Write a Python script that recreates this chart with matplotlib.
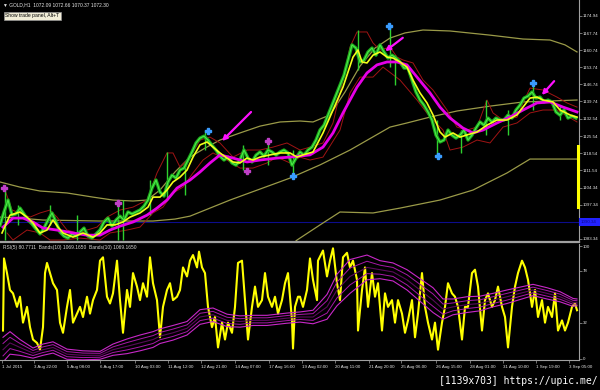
import numpy as np
import matplotlib
matplotlib.use("Agg")
import matplotlib.pyplot as plt
from matplotlib.patches import Rectangle

plt.rcParams['font.family'] = ['Liberation Sans', 'DejaVu Sans']

price_ticks = [1174.94, 1167.74, 1160.74, 1153.74, 1146.74, 1139.74,
               1132.54, 1125.54, 1118.54, 1111.54, 1104.34, 1097.34, 1083.34]
rsi_ticks = [100, 78, 32, 0]

time_pos = [2, 34, 67, 100, 135, 168, 201, 235, 269, 302, 335, 369, 401, 436, 470, 503, 536, 569]
time_lbl = ["1 Jul 2015", "3 Aug 22:00", "5 Aug 08:00", "6 Aug 17:00", "10 Aug 03:00",
            "11 Aug 12:00", "12 Aug 21:00", "14 Aug 07:00", "17 Aug 16:00", "19 Aug 02:00",
            "20 Aug 11:00", "21 Aug 20:00", "25 Aug 06:00", "26 Aug 15:00", "28 Aug 01:00",
            "31 Aug 10:00", "1 Sep 19:00", "3 Sep 05:00"]

# green closes, one every 4 bars
close = [1089.0, 1094.4, 1099.3, 1093.1, 1093.6, 1096.0, 1093.6, 1091.1, 1089.5, 1087.4,
         1085.4, 1087.8, 1091.1, 1094.0, 1090.3, 1086.2, 1084.5, 1083.7, 1085.4, 1084.5,
         1086.2, 1087.8, 1084.5, 1083.7, 1085.4, 1087.0, 1090.3, 1091.9, 1088.6, 1091.1,
         1092.7, 1091.1, 1094.4, 1093.6, 1094.4, 1095.2, 1096.8, 1099.3, 1104.2, 1107.5,
         1102.6, 1100.9, 1106.7, 1109.5, 1108.3, 1111.6, 1112.4, 1115.7, 1119.0, 1122.7,
         1124.7, 1125.5, 1123.9, 1121.8, 1119.8, 1117.3, 1115.7, 1116.9, 1114.5, 1113.6,
         1115.7, 1119.8, 1116.5, 1114.9, 1117.7, 1119.0, 1117.3, 1119.8, 1119.0, 1117.7,
         1119.0, 1119.8, 1118.6, 1113.6, 1116.5, 1119.0, 1117.7, 1119.8, 1121.0, 1123.9,
         1128.0, 1130.0, 1134.1, 1138.2, 1142.3, 1146.4, 1150.5, 1156.7, 1162.9, 1161.6,
         1155.9, 1156.7, 1160.0, 1161.6, 1158.7, 1162.9, 1160.0, 1157.5, 1158.7, 1157.5,
         1155.9, 1153.4, 1153.4, 1148.5, 1143.6, 1140.3, 1138.2, 1135.4, 1132.1, 1125.9,
         1123.1, 1123.9, 1128.0, 1125.9, 1124.7, 1125.9, 1128.0, 1123.9, 1125.9, 1128.8,
         1131.3, 1130.0, 1132.9, 1131.3, 1132.9, 1132.1, 1132.1, 1134.1, 1132.9, 1136.2,
         1138.2, 1141.1, 1141.9, 1143.6, 1141.1, 1141.5, 1139.5, 1140.3, 1139.5, 1135.4,
         1134.1, 1136.2, 1132.9, 1133.7, 1132.9]
close_x = np.arange(0, 580, 4)

spike_x = [5, 18, 50, 77, 118, 123, 150, 167, 185, 205, 243, 268, 293, 358, 390, 395,
           437, 461, 486, 508, 533, 560]
spike_lo = [1082.9, 1089.0, 1089.0, 1082.9, 1082.9, 1082.9, 1093.1, 1099.3, 1101.4, 1119.8,
            1111.6, 1113.6, 1109.5, 1152.6, 1153.8, 1146.4, 1117.7, 1118.6, 1125.9, 1125.9,
            1136.2, 1132.1]
spike_hi = [1103.4, 1097.2, 1097.2, 1093.1, 1098.1, 1099.3, 1107.5, 1119.0, 1113.6, 1128.0,
            1121.8, 1123.9, 1119.8, 1169.0, 1171.1, 1158.7, 1132.1, 1128.0, 1140.3, 1136.2,
            1148.5, 1138.2]

fast_x = [2, 10, 20, 27, 33, 40, 47, 53, 58, 63, 73, 83, 93, 100, 107, 115, 123, 130, 140, 148,
          153, 160, 167, 173, 180, 187, 193, 200, 207, 213, 220, 227, 233, 240, 247, 253, 260,
          270, 280, 290, 297, 303, 313, 323, 333, 343, 353, 358, 362, 367, 373, 380, 387, 393,
          400, 407, 413, 420, 427, 433, 440, 445, 453, 460, 467, 477, 487, 497, 507, 517, 523,
          530, 537, 543, 553, 560, 570, 577]
fast_ma = [1085.8, 1093.1, 1094.4, 1092.3, 1089.9, 1085.8, 1087.0, 1091.1, 1088.2, 1085.8,
           1084.1, 1085.8, 1084.1, 1085.8, 1089.1, 1089.1, 1090.3, 1092.3, 1094.0, 1096.4,
           1100.5, 1100.5, 1103.4, 1106.7, 1108.7, 1111.6, 1116.9, 1121.9, 1123.1, 1121.0,
           1118.6, 1116.5, 1114.9, 1114.5, 1116.5, 1115.7, 1116.9, 1117.8, 1118.6, 1118.6,
           1116.9, 1117.8, 1119.0, 1126.8, 1136.2, 1145.6, 1157.9, 1160.8, 1155.9, 1155.5,
           1158.7, 1160.0, 1157.9, 1157.5, 1155.9, 1153.8, 1148.5, 1143.2, 1139.1, 1134.2,
           1127.2, 1125.1, 1126.8, 1125.1, 1126.0, 1127.2, 1130.0, 1132.1, 1132.1, 1134.2,
           1137.4, 1141.1, 1141.5, 1140.3, 1139.5, 1136.2, 1134.2, 1133.3]

slow_x = [3, 13, 23, 33, 43, 57, 73, 87, 100, 110, 120, 133, 147, 157, 167, 177, 190, 200, 210,
          220, 233, 247, 260, 277, 290, 310, 323, 333, 343, 357, 367, 377, 387, 397, 407, 417,
          430, 440, 450, 463, 473, 483, 497, 510, 523, 537, 550, 563, 577]
slow_ma = [1088.2, 1091.9, 1091.9, 1090.3, 1087.8, 1087.0, 1085.8, 1084.9, 1084.9, 1087.0,
           1088.6, 1090.3, 1093.1, 1096.0, 1099.3, 1104.2, 1107.5, 1110.8, 1114.5, 1117.8,
           1116.5, 1114.9, 1115.7, 1116.5, 1116.9, 1117.8, 1121.0, 1126.8, 1135.0, 1145.6,
           1151.4, 1154.7, 1155.9, 1155.9, 1154.7, 1149.7, 1143.2, 1137.4, 1132.9, 1128.8,
           1126.8, 1128.0, 1130.9, 1133.3, 1136.2, 1139.1, 1139.5, 1137.4, 1135.4]

red_up_x = [5, 12, 20, 30, 40, 50, 57, 67, 77, 87, 97, 107, 120, 133, 147, 157, 167, 173, 180,
            190, 200, 210, 220, 233, 247, 260, 273, 287, 300, 310, 323, 333, 343, 350, 357,
            367, 373, 380, 390, 397, 403, 413, 423, 433, 440, 447, 457, 467, 477, 487, 493,
            503, 517, 523, 530, 543, 557, 567, 577]
red_up = [1103.4, 1095.2, 1094.0, 1092.3, 1094.0, 1095.2, 1092.3, 1087.0, 1085.8, 1087.0,
          1088.2, 1092.3, 1095.2, 1096.4, 1099.3, 1110.4, 1118.6, 1118.6, 1112.8, 1116.9,
          1123.9, 1125.1, 1122.7, 1116.9, 1119.8, 1119.8, 1121.0, 1122.7, 1119.8, 1121.0,
          1122.7, 1130.9, 1148.5, 1162.0, 1168.2, 1168.2, 1163.7, 1160.8, 1162.0, 1157.9,
          1156.7, 1155.5, 1148.5, 1144.4, 1140.3, 1136.2, 1129.2, 1128.0, 1129.2, 1140.3,
          1135.0, 1132.1, 1133.3, 1139.1, 1145.2, 1144.4, 1141.5, 1139.1, 1137.4]
red_dn_x = [7, 13, 27, 40, 50, 63, 80, 100, 110, 127, 140, 153, 163, 173, 183, 193, 203, 213,
            227, 240, 253, 267, 277, 290, 300, 310, 323, 340, 350, 360, 373, 383, 400, 417,
            430, 443, 450, 463, 477, 490, 503, 517, 530, 543, 557, 577]
red_dn = [1085.8, 1082.9, 1087.0, 1085.8, 1082.9, 1082.9, 1083.7, 1082.9, 1085.8, 1087.0,
          1088.2, 1094.0, 1096.4, 1102.2, 1104.6, 1110.4, 1115.7, 1118.6, 1115.7, 1112.4,
          1112.4, 1114.5, 1116.9, 1114.5, 1116.9, 1115.7, 1116.9, 1128.0, 1143.2, 1149.7,
          1149.7, 1153.8, 1148.5, 1140.3, 1133.3, 1128.0, 1119.8, 1121.0, 1123.9, 1122.7,
          1129.2, 1130.9, 1135.0, 1136.2, 1136.2, 1131.3]

bb_up_x = [0, 20, 40, 67, 93, 113, 133, 147, 160, 175, 190, 205, 220, 240, 260, 280, 300, 313,
           330, 345, 360, 375, 390, 405, 423, 450, 490, 523, 550, 565, 577]
bb_up = [1106.7, 1104.6, 1103.0, 1102.2, 1100.5, 1099.3, 1098.9, 1099.3, 1103.4, 1110.8,
         1116.9, 1120.6, 1123.9, 1126.8, 1129.6, 1131.3, 1131.7, 1131.3, 1134.2, 1143.6,
         1154.2, 1161.6, 1165.7, 1167.8, 1169.0, 1168.6, 1166.9, 1165.3, 1164.9, 1162.9, 1160.0]
bb_mid_x = [0, 20, 43, 100, 153, 175, 190, 230, 260, 290, 320, 350, 390, 407, 430, 457, 490,
            523, 550, 577]
bb_mid = [1092.3, 1091.9, 1091.1, 1090.7, 1090.7, 1091.5, 1092.7, 1099.3, 1103.8, 1108.3,
          1113.7, 1119.8, 1129.2, 1130.9, 1133.3, 1135.8, 1137.8, 1139.5, 1139.9, 1140.3]
bb_dn_x = [290, 297, 320, 340, 373, 400, 440, 473, 507, 530, 577]
bb_dn = [1080.4, 1082.9, 1089.1, 1094.4, 1094.0, 1096.0, 1099.3, 1103.4, 1110.4, 1116.1, 1116.1]

pink_x = [4, 118, 247, 268]
pink_y = [1104.2, 1098.0, 1111.0, 1123.6]
blue_x = [208, 293, 389, 438, 533]
blue_y = [1127.4, 1109.0, 1170.6, 1117.2, 1147.4]

rsi_x = [3, 4, 7, 10, 13, 17, 20, 23, 27, 30, 33, 37, 40, 43, 45, 47, 50, 53, 57, 60,
         63, 67, 70, 73, 77, 80, 83, 87, 90, 93, 97, 100, 103, 107, 110, 113, 117, 120, 123, 127,
         130, 133, 137, 140, 143, 147, 150, 153, 157, 160, 163, 167, 170, 173, 177, 180, 183, 187,
         190, 193, 197, 199, 202, 205, 208, 212, 215, 218, 222, 225, 228, 232, 235, 238, 242, 245,
         248, 252, 255, 258, 262, 265, 268, 272, 275, 278, 282, 285, 288, 292, 293, 295, 298, 300,
         303, 307, 310, 313, 317, 318, 323, 327, 330, 333, 337, 340, 343, 347, 350, 353, 357, 358,
         362, 365, 368, 372, 375, 378, 382, 385, 388, 392, 395, 398, 402, 405, 408, 412, 415, 418,
         422, 425, 428, 432, 435, 438, 442, 445, 448, 452, 455, 458, 462, 465, 468, 472, 475, 478,
         482, 485, 488, 492, 495, 498, 502, 505, 508, 512, 515, 518, 522, 525, 528, 532, 535, 538,
         542, 545, 548, 552, 555, 558, 562, 565, 568, 572, 575, 577]
rsi = [25, 89, 76, 61, 58, 46, 55, 32, 46, 28, 17, 14, 8, 28, 76, 85, 76, 67, 61, 32,
       23, 46, 61, 32, 40, 46, 37, 55, 40, 52, 61, 87, 90, 55, 49, 58, 87, 52, 23, 61,
       46, 76, 64, 52, 67, 55, 90, 67, 52, 19, 46, 61, 67, 52, 55, 61, 81, 73, 87, 92,
       81, 95, 81, 76, 46, 28, 37, 10, 32, 17, 32, 23, 46, 85, 87, 52, 17, 46, 64, 46,
       52, 76, 55, 46, 55, 40, 52, 67, 76, 34, 9, 46, 55, 55, 46, 61, 89, 70, 52, 87,
       96, 73, 87, 98, 67, 52, 90, 94, 81, 87, 70, 25, 61, 81, 46, 76, 55, 67, 25, 58,
       46, 52, 32, 52, 40, 23, 34, 52, 19, 40, 76, 46, 32, 17, 32, 8, 32, 46, 67, 58,
       55, 46, 17, 46, 46, 76, 79, 64, 25, 52, 58, 46, 52, 64, 46, 37, 10, 46, 64, 76,
       87, 81, 70, 46, 61, 37, 52, 32, 46, 37, 58, 25, 34, 25, 32, 46, 49, 43]

band_x = [3, 10, 20, 33, 43, 53, 67, 83, 100, 113, 127, 140, 153, 160, 173, 187, 200, 213, 227,
          240, 253, 267, 287, 300, 313, 327, 337, 350, 367, 380, 393, 407, 420, 433, 443, 453,
          467, 480, 493, 507, 520, 533, 547, 560, 573, 577]
band_up = [19, 24, 17, 9.5, 13, 15, 8.5, 7, 6.5, 13, 17.5, 21, 24, 26.5, 29.5, 33, 43.5, 45,
           39.5, 38, 38.5, 38.5, 40.5, 41.5, 43, 57, 75, 88, 92, 87, 85, 79, 71, 63, 53, 53,
           55, 55.5, 58, 61, 63.5, 66, 63, 59.5, 53.5, 53]
band_iup = [13.5, 19, 13.5, 7.3, 10.5, 12.5, 6.3, 5, 4.8, 10.5, 14.3, 17.5, 20.5, 23.3, 26.3,
            30, 40.3, 42, 36.8, 35.5, 36.3, 36.3, 38.3, 39.3, 40, 51.5, 68, 80.5, 86.5, 83, 81,
            74.5, 66, 57.5, 48.5, 49.5, 51.5, 52.3, 55, 58, 60.8, 63.5, 60.5, 57.3, 51.8, 51.5]
band_mid = [8, 14, 10, 5, 8, 10, 4, 3, 3, 8, 11, 14, 17, 20, 23, 27, 37, 39, 34, 33, 34, 34,
            36, 37, 37, 46, 61, 73, 81, 79, 77, 70, 61, 52, 44, 46, 48, 49, 52, 55, 58, 61, 58,
            55, 50, 50]
band_idn = [2.5, 9, 6.5, 2.8, 5.5, 7.5, 1.8, 1, 1.3, 5.5, 7.8, 10.5, 13.5, 16.8, 19.8, 24,
            33.8, 36, 31.3, 30.5, 31.8, 31.8, 33.8, 34.8, 34, 40.5, 54, 65.5, 75.5, 75, 73,
            65.5, 56, 46.5, 39.5, 42.5, 44.5, 45.8, 49, 52, 55.3, 58.5, 55.5, 52.8, 48.3, 48.5]
band_dn = [-3, 4, 3, 0.5, 3, 5, -0.5, -1, -0.5, 3, 4.5, 7, 10, 13.5, 16.5, 21, 30.5, 33, 28.5,
           28, 29.5, 29.5, 31.5, 32.5, 31, 35, 47, 58, 70, 71, 69, 61, 51, 41, 35, 39, 41,
           42.5, 46, 49, 52.5, 56, 53, 50.5, 46.5, 47]

W, H = 600, 390
fig = plt.figure(figsize=(6, 3.9), dpi=100, facecolor='black')
ax = fig.add_axes([0, 1 - 242 / H, 579 / W, 242 / H])
rx = fig.add_axes([0, 1 - 360 / H, 579 / W, 116 / H])

axcol = '#a0a0a0'
lblcol = '#e6e6e6'
fs = 3.2
for a in (ax, rx):
    a.set_facecolor('black')
    a.set_xlim(0, 579)
    a.spines['left'].set_visible(False)
    a.spines['top'].set_visible(False)
    a.spines['right'].set_color(axcol)
    a.spines['bottom'].set_color(axcol)
    a.spines['right'].set_linewidth(0.8)
    a.yaxis.tick_right()
    a.tick_params(axis='y', colors=axcol, labelcolor=lblcol, labelsize=fs,
                  length=2, width=0.5, pad=0.8)

# main price pane
ax.set_ylim(1082.1, 1181.3)
ax.spines['bottom'].set_linewidth(1.6)
ax.set_xticks([])
ax.set_yticks(price_ticks)
ax.set_yticklabels(['%.2f' % t for t in price_ticks])

ax.axhline(1090.3, color='#0c0c8c', lw=0.8, zorder=1)
ax.plot(bb_up_x, bb_up, color='#9a9a48', lw=0.9, zorder=2)
ax.plot(bb_mid_x, bb_mid, color='#9a9a48', lw=0.9, zorder=2)
ax.plot(bb_dn_x, bb_dn, color='#9a9a48', lw=0.9, zorder=2)
ax.plot(red_up_x, red_up, color='#a01414', lw=0.7, zorder=3)
ax.plot(red_dn_x, red_dn, color='#a01414', lw=0.7, zorder=3)
ax.vlines(spike_x, spike_lo, spike_hi, color='#2ed02e', lw=1.0, zorder=4)
ax.plot(close_x, close, color='#1aa81a', lw=2.4, zorder=4)
ax.plot(close_x, close, color='#4ee84a', lw=0.8, zorder=4)
ax.plot(slow_x, slow_ma, color='#e600e6', lw=2.0, zorder=5)
ax.plot(fast_x, fast_ma, color='#f2ff1a', lw=1.2, zorder=6)
ax.plot(pink_x, pink_y, 'P', color='#c040c8', ms=4, zorder=7)
ax.plot(blue_x, blue_y, 'P', color='#3a9cff', ms=4, zorder=7)

for tail, head in [((253, 1136.2), (220, 1122.7)),
                   ((405, 1166.5), (383, 1159.6)),
                   ((556, 1148.9), (540, 1141.5))]:
    ax.annotate('', xy=head, xytext=tail, zorder=8,
                arrowprops=dict(arrowstyle='-|>', color='#ff10ff', lw=1.6, mutation_scale=7))

# yellow marker strip on the price scale
ax.plot([577.5, 577.5], [1096.4, 1121.4], color='#ffff00', lw=2.2, clip_on=False, zorder=9)

# RSI pane
rx.set_ylim(-1.15, 101.8)
rx.set_yticks(rsi_ticks)
rx.set_yticklabels([str(t) for t in rsi_ticks])
rx.spines['bottom'].set_linewidth(0.8)
rx.set_xticks(time_pos)
rx.set_xticklabels(time_lbl, ha='left')
rx.tick_params(axis='x', colors=axcol, labelcolor=lblcol, labelsize=fs,
               length=2, width=0.5, pad=1.5)

rx.plot(rsi_x, rsi, color='#ffff00', lw=1.5, zorder=3)
rx.plot(band_x, band_up, color='#c828c8', lw=0.8, zorder=4)
rx.plot(band_x, band_dn, color='#c828c8', lw=0.8, zorder=4)
rx.plot(band_x, band_iup, color='#a818a8', lw=0.7, zorder=4)
rx.plot(band_x, band_idn, color='#a818a8', lw=0.7, zorder=4)
rx.plot(band_x, band_mid, color='#5a0a5a', lw=0.8, zorder=4)

# texts and decorations
fig.text(3 / W, 1 - 5 / H, '\u25bc GOLD,H1  1072.09 1072.66 1070.37 1072.30',
         fontsize=3.5, color=lblcol, va='center')
fig.text(5 / W, 1 - 16 / H, 'Show trade panel, Alt+T', fontsize=3.6, color='black',
         va='center', bbox=dict(boxstyle='square,pad=0.3', fc='#f2eed8', ec='#909090', lw=0.5))
fig.text(3 / W, 1 - 248 / H, 'RSI(5) 80.7711  Bands(10) 1069.1650  Bands(10) 1069.1650',
         fontsize=3.5, color='#d8d8d8', va='center')
fig.add_artist(Rectangle((579 / W, 1 - 226 / H), 21 / W, 8 / H, transform=fig.transFigure,
                         fc='#2222ff', ec='none'))
fig.text(581 / W, 1 - 222 / H, '1090.34', fontsize=fs, color='#0a0a90', va='center')
fig.text(598 / W, 1 - 381 / H, '[1139x703] https://upic.me/', ha='right', va='center',
         fontsize=7, family='DejaVu Sans Mono', color='white')

fig.savefig('out.png', dpi=100, facecolor='black')
